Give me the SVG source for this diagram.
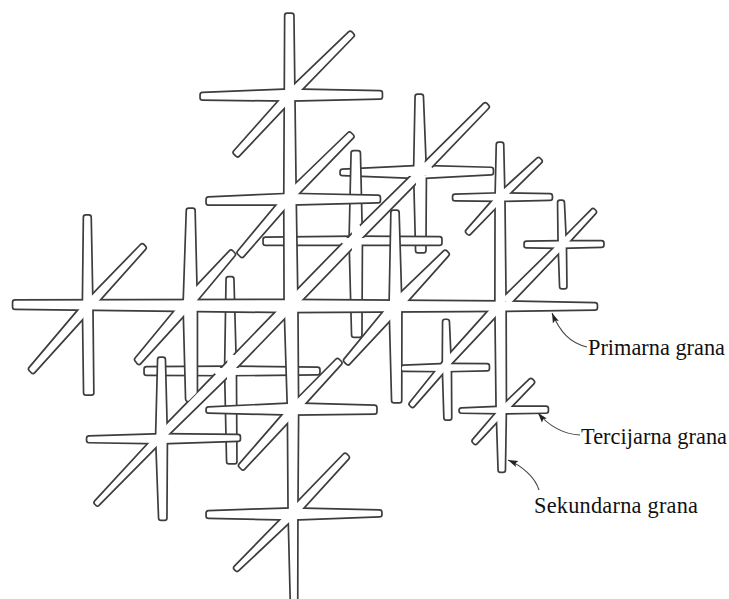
<svg xmlns="http://www.w3.org/2000/svg" width="729" height="599" viewBox="0 0 729 599">
<style>
.o{fill:#3c3c3c;stroke:#3c3c3c;stroke-width:6.6;stroke-linejoin:round}
.i{fill:#fff;stroke:#fff;stroke-width:3.2;stroke-linejoin:round}
.lbl{font-family:"Liberation Serif","Times New Roman",serif;font-size:22.3px;fill:#111}
.ar{fill:none;stroke:#444;stroke-width:1.1}
</style>
<defs>
<filter id="soft" x="-2%" y="-2%" width="104%" height="104%"><feGaussianBlur stdDeviation="0.4"/></filter>
<marker id="ah" markerWidth="11" markerHeight="8" refX="10" refY="4" orient="auto" markerUnits="userSpaceOnUse"><path d="M0,0.8L10,4L0,7.2L2,4Z" fill="#222"/></marker>
<g id="c420"><path d="M342.5,171.5L420,167.8L491,169.7L491,172.5L420,176.2L342.5,173.2Z"/><path d="M417.5,96.5L421,96.5L424,172L423.5,250.5L418,250.5L416,172Z"/></g>
<g id="c228"><path d="M146.5,369L228,368.5L317.5,369.5L317.5,372.5L228,373.3L146.5,373Z"/><path d="M228.5,279L231.5,279L234,370L234.5,461.5L229,461.5L227,370Z"/></g>
<g id="c355"><path d="M265.5,239.5L355,238.5L439.5,239L439.5,243L355,243L265.5,243Z"/><path d="M353.5,153L358,153L360,240L359.5,335L354,335L351.5,240Z"/></g>
<g id="main">
<path d="M15,302.4L290,301.8L505,303.3L595,305.1L595,307.7L505,309L290,310.2L15,307Z"/>
<path d="M85.8,217.3L88.8,217.3L90.5,305L91.4,392.7L86,392.7L84.8,305Z"/>
<path d="M142.2,246.2L143.8,247.8L90,308L33,371L31,369L86,304Z"/>
<path d="M188.7,210.5L192.7,210.5L195,305L195,392L188,399L185.5,305Z"/>
<path d="M231,252.5L233,254.5L190,306L139,362L137,359.5L186,300Z"/>
<path d="M287.1,15.5L291.5,15.5L293.8,198L295.5,305L296.2,410L295.5,513L295.3,602L292.7,602L290.5,513L289.8,410L286.5,305L286.2,198Z"/>
<path d="M202.5,94.8L290,91.3L380,93L380,96.7L290,98.7L202.5,97.7Z"/>
<path d="M350.2,33.7L351.8,35.3L292,97L237.6,154.4L235.6,152.4L288,93.4Z"/>
<path d="M208.5,199.3L290,195.7L378,197.6L378,200.4L290,202.7L208.5,202.7Z"/>
<path d="M349.5,134.5L351.5,136.5L291,199L242,255L239.5,252.5L289,193Z"/>
<path d="M485.2,105.2L418.4,171.4L352.8,235.8L287.6,302.6L225.6,366.6L158.4,435.4L96.5,502.5L97.5,503.5L161.6,438.6L230.4,371.4L292.4,307.4L357.2,240.2L421.6,174.6L486.8,106.8Z"/>
<path d="M89,438.3L162,436L238,436.9L238,438.9L162,441.5L89,440.3Z"/>
<path d="M160,359.5L163,359.5L165,437L164.5,518L161,518L158,437Z"/>
<path d="M208.5,409.3L293,405.3L374.5,407.5L374.5,411.7L293,412.7L208.5,410.7Z"/>
<path d="M337.5,361L339.5,363L295,412L243,467.5L241,465.5L291,408Z"/>
<path d="M208.5,513L293,510.3L379.5,512.3L379.5,514.4L293,517.7L208.5,516Z"/>
<path d="M345.1,455.7L346.9,457.5L294.7,514.7L237.1,568.9L236.1,567.9L291.3,511.3Z"/>
<path d="M393.3,212.5L396.7,212.5L399.5,306L399.3,400.5L394,400.5L391.5,306Z"/>
<path d="M445.2,252.7L446.8,254.3L398,309L348,362.4L346,360.4L393,303Z"/>
<path d="M498.7,144.5L501.3,144.5L502.5,197L503.7,306L504,408L503,470L500.5,470L498.5,408L497.3,306L497.5,197Z"/>
<path d="M455,196.5L501,195.2L550,196L550,198L501,199L455,198.5Z"/>
<path d="M538.5,160L539.7,161.2L502,198.5L469,232.5L468,231.5L500,195Z"/>
<path d="M498,303L502,307L448.5,364L412.5,405L411.5,404L446,361Z"/>
<path d="M403.5,367.5L447,365.8L487,366L487,368.5L447,369.3L403.5,369Z"/>
<path d="M445,321.7L447,321.7L449,367L449.3,417.7L446.3,417.7L444.7,367Z"/>
<path d="M461.5,410.3L503,408.5L546,408.5L546,410.8L503,411.5L461.5,410.8Z"/>
<path d="M530.9,380.9L532.1,382.1L506.2,409.2L475.5,442L474.5,441L503.8,406.8Z"/>
<path d="M505,298.5L560,244.5L593,211L594,212L561.5,247.5L509,302.5Z"/>
<path d="M560,202.5L562,202.5L564,244L564.5,286.5L562,286.5L560.5,244Z"/>
<path d="M526.5,243.5L561,243L601.5,243L601.5,245L561,246L526.5,245.5Z"/>
</g>
</defs>
<rect width="729" height="599" fill="#fff"/>
<g filter="url(#soft)">
<g id="crystal-tertiary-420"><use href="#c420" class="o"/><use href="#c420" class="i"/></g>
<g id="crystal-tertiary-228"><use href="#c228" class="o"/><use href="#c228" class="i"/></g>
<g id="crystal-tertiary-355"><use href="#c355" class="o"/><use href="#c355" class="i"/></g>
<g id="crystal-primary"><use href="#main" class="o"/><use href="#main" class="i"/></g>
<g id="joints" fill="#fff" stroke="#fff" stroke-width="3.2" stroke-linejoin="round">
<path d="M410,169L431,168.5L431,173.5L410,174.5Z"/><path d="M418,158L423,158L423.5,186L417.5,186Z"/>
<path d="M216,369.5L240,369.5L240,372.5L216,372.5Z"/><path d="M229,356L233,356L233.5,384L228.5,384Z"/>
<path d="M343,239.5L367,239.5L367,242L343,242Z"/><path d="M353.5,226L358.5,226L358.5,252L353.5,252Z"/>
</g>
</g>
<g id="connectors">
<path class="ar" d="M587,347C570,343 560,332 552,313" marker-end="url(#ah)"/>
<path class="ar" d="M580,435C563,434 549,426 538,413" marker-end="url(#ah)"/>
<path class="ar" d="M539,490C535,477 522,466 508,460" marker-end="url(#ah)"/>
</g>
<g id="labels">
<text class="lbl" x="588" y="355" textLength="137">Primarna grana</text>
<text class="lbl" x="581" y="444" textLength="146">Tercijarna grana</text>
<text class="lbl" x="534" y="513" textLength="164">Sekundarna grana</text>
</g>
</svg>
